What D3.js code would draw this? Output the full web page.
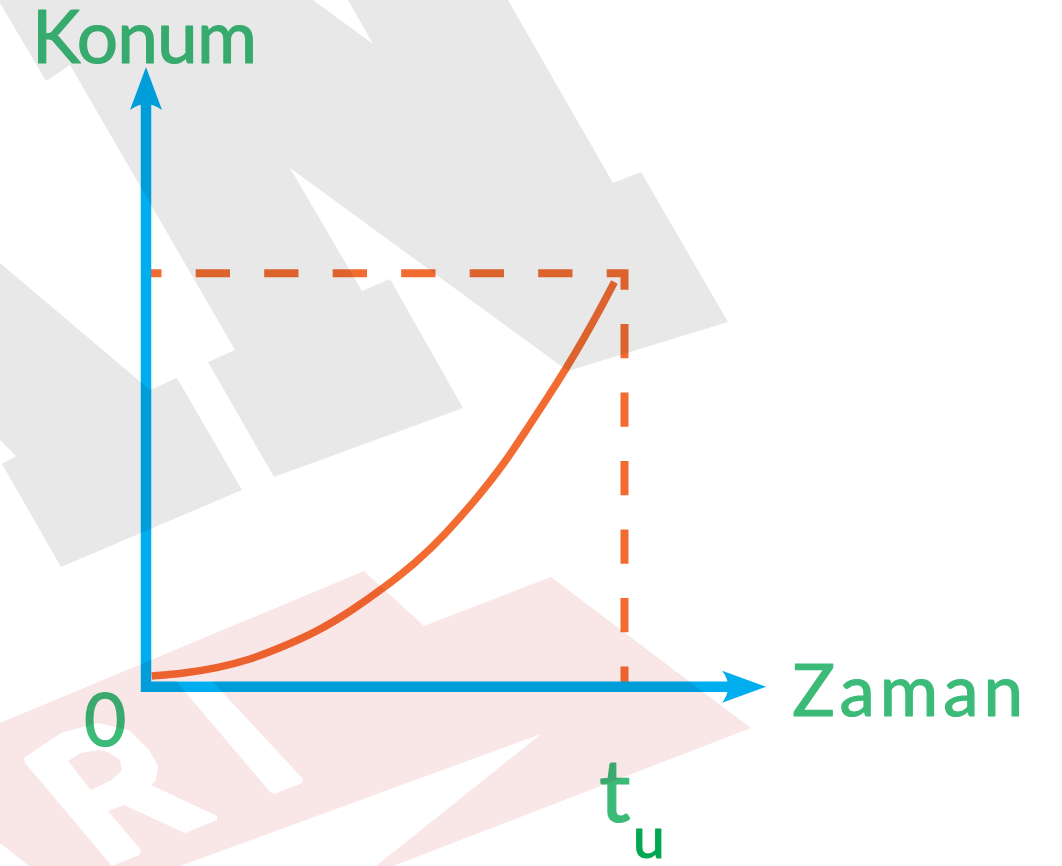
<!DOCTYPE html>
<html lang="tr">
<head>
  <meta charset="UTF-8">
  <title>Konum - Zaman</title>
  <style>
    body { margin: 0; background: #fff; overflow: hidden; }
    svg { display: block; }
    .label { font-family: Lato, "Open Sans", sans-serif; stroke-linejoin: round; }
    .watermark { mix-blend-mode: multiply; }
  </style>
</head>
<body>
  <script src="https://d3js.org/d3.v7.min.js"></script>
  <script>
    // time as a fraction of t_u, position as a fraction of the final position
    const times     = [0.012, 0.078, 0.148, 0.217, 0.287, 0.357, 0.426, 0.496, 0.566, 0.621, 0.694, 0.750, 0.796, 0.837, 0.879, 0.914, 0.949, 0.979];
    const positions = [0.026, 0.032, 0.045, 0.065, 0.097, 0.133, 0.181, 0.238, 0.302, 0.363, 0.459, 0.542, 0.623, 0.695, 0.772, 0.840, 0.913, 0.979];

    const tEnd = 1, posEnd = 1;          // the dashed guide meets at (t_u, final position)
    const tAxisMax = 1.296, posAxisMax = 1.499;

    const yTitle = "Konum", xTitle = "Zaman";
    const originLabel = "0", tickLabel = "t", tickSub = "u";

    // background watermark (light logo shapes behind the graph)
    const wmGray = [
      [[0,0],[313,0],[373,44],[348,0],[508,0],[613,183],[641,172],[728,322],[568,371],[290,168],[362,291],[390,279],[463,408],[274,477],[208,362],[235,350],[70,65],[46,81],[0,3]],
      [[0,263],[150,390],[177,378],[242,490],[61,567],[2,464],[16,456],[0,440]]
    ];
    const wmPink = [
      [[0,723],[364,571],[424,626],[551,577],[751,728],[393,866],[376,866],[541,734],[180,866],[29,866],[0,843]]
    ];
    const wmWhite = [
      [[176,681],[212,681],[303,779],[302,783],[274,794],[270,792]]
    ];
    const wmR = "M24,758 L61,733 L98,723 L129,730 L149,750 L158,766 L156,780 L151,785 L217,816 L217,820 L185,833 L124,805 L108,811 L141,850 L139,855 L112,866 L25,763 Z " +
                "M68,761 L91,790 L112,780 L122,770 L120,760 L108,752 L98,750 L81,753 Z";

    const width = 1062, height = 866;
    const blue = "#00aeef", orange = "#f26c32", green = "#3cbb78", darkGreen = "#00a651";

    const x = d3.scaleLinear().domain([0, 1]).range([146, 624.5]);
    const y = d3.scaleLinear().domain([0, 1]).range([686.7, 273.3]);

    const svg = d3.select("body").append("svg").attr("width", width).attr("height", height);
    svg.append("rect").attr("width", width).attr("height", height).attr("fill", "#fff");

    const x0 = x(0), y0 = y(0);
    const xTip = x(tAxisMax), yTip = y(posAxisMax);

    // dashed guides to t_u and the final position
    svg.append("path")
      .attr("d", `M${x(0)},${y(posEnd)} H${x(tEnd)} V${y(0)}`)
      .attr("fill", "none").attr("stroke", orange).attr("stroke-width", 8)
      .attr("stroke-dasharray", "34.3 34.2").attr("stroke-dashoffset", 18.8)
      .attr("stroke-linejoin", "miter");

    // position-time curve
    const pts = times.map((t, i) => [t, positions[i]]);
    const line = d3.line().x(d => x(d[0])).y(d => y(d[1])).curve(d3.curveBasis);
    svg.append("path")
      .attr("d", line(pts))
      .attr("fill", "none").attr("stroke", orange).attr("stroke-width", 7.5);

    // axes with arrows
    svg.append("path")
      .attr("d", `M${x0},${yTip + 34} V${y0} H${xTip - 34}`)
      .attr("fill", "none").attr("stroke", blue).attr("stroke-width", 10.5)
      .attr("stroke-linejoin", "miter");
    svg.append("path")
      .attr("d", `M${x0},${yTip} L${x0 + 16},${yTip + 43} Q${x0},${yTip + 31} ${x0 - 16},${yTip + 43} Z`)
      .attr("fill", blue);
    svg.append("path")
      .attr("d", `M${xTip},${y0} L${xTip - 44},${y0 - 16} Q${xTip - 32},${y0} ${xTip - 44},${y0 + 16} Z`)
      .attr("fill", blue);

    // labels
    const addText = (txt, px, py, size, color, len) => {
      const t = svg.append("text").attr("class", "label")
        .attr("x", px).attr("y", py)
        .attr("font-size", size).attr("fill", color)
        .attr("stroke", color).attr("stroke-width", 1.2)
        .text(txt);
      if (len) t.attr("textLength", len).attr("lengthAdjust", "spacing");
      return t;
    };
    addText(yTitle, x0 - 114, yTip - 4.3, 73, green, 225);
    addText(xTitle, xTip + 26, y0 + 29, 71, green, 231);
    addText(originLabel, x0 - 62, y0 + 59.3, 73, green);
    addText(tickLabel, x(tEnd) - 25.5, y0 + 135.3, 88, green);
    addText(tickSub, x(tEnd) + 8.5, y0 + 171, 57, darkGreen);

    // watermark on top, multiplied so the drawing shows through
    const wm = svg.append("g").attr("class", "watermark");
    const poly = p => "M" + p.map(d => d.join(",")).join("L") + "Z";
    wm.selectAll("path.g").data(wmGray).join("path").attr("class", "g").attr("d", poly).attr("fill", "#e8e8e8");
    wm.selectAll("path.p").data(wmPink).join("path").attr("class", "p").attr("d", poly).attr("fill", "#f9e6e7");
    wm.selectAll("path.w").data(wmWhite).join("path").attr("class", "w").attr("d", poly).attr("fill", "#fff");
    wm.append("path").attr("d", wmR).attr("fill", "#fff").attr("fill-rule", "evenodd");
  </script>
</body>
</html>
